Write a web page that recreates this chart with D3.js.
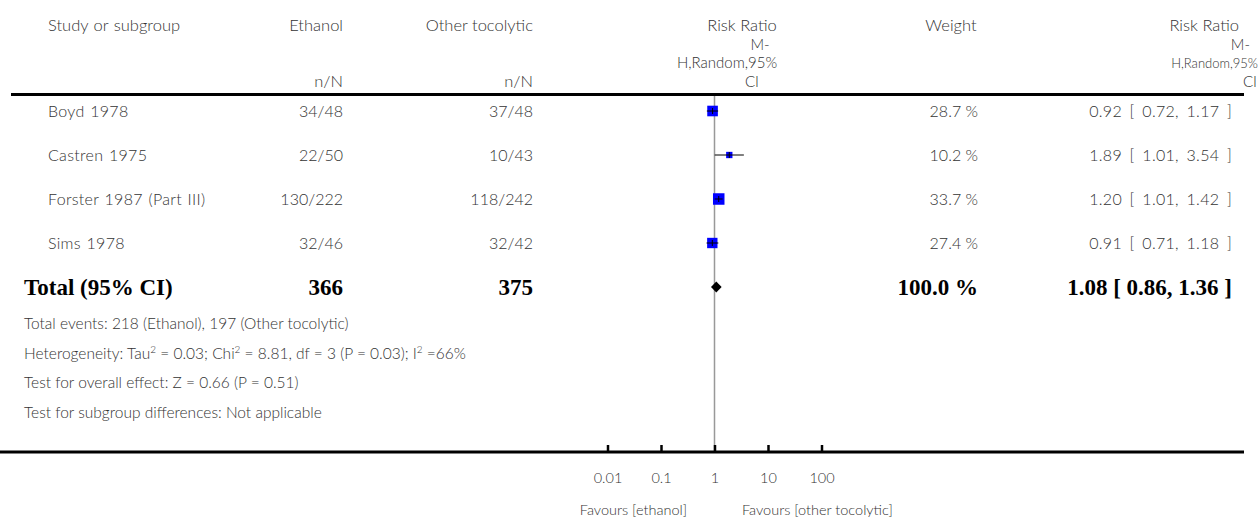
<!DOCTYPE html>
<html>
<head>
<meta charset="utf-8">
<script src="https://cdn.jsdelivr.net/npm/d3@7"></script>
<style>
  body { margin: 0; background: #fff; }
  svg text { font-family: Lato, "Open Sans", sans-serif; font-weight: 300; fill: #333; }
  svg text.bold { font-family: "Liberation Serif", serif; font-weight: bold; fill: #000; }
</style>
</head>
<body>
<svg id="chart"></svg>
<script>
// study rows
var studies = ['Boyd 1978', 'Castren 1975', 'Forster 1987 (Part III)', 'Sims 1978'];
var ethanolEvents = [34, 22, 130, 32];
var ethanolTotals = [48, 50, 222, 46];
var otherEvents = [37, 10, 118, 32];
var otherTotals = [48, 43, 242, 42];
var weights = [28.7, 10.2, 33.7, 27.4];
var ratios = [0.92, 1.89, 1.20, 0.91];
var lowers = [0.72, 1.01, 1.01, 0.71];
var uppers = [1.17, 3.54, 1.42, 1.18];

// pooled
var totalN = [366, 375];
var totalWeight = 100.0;
var totalRatio = [1.08, 0.86, 1.36];

var tickValues = [0.01, 0.1, 1, 10, 100];
var tickLabels = ['0.01', '0.1', '1', '10', '100'];

var footLines = [
  ['Total events: 218 (Ethanol), 197 (Other tocolytic)'],
  ['Heterogeneity: Tau', '2', ' = 0.03; Chi', '2', ' = 8.81, df = 3 (P = 0.03); I', '2', ' =66%'],
  ['Test for overall effect: Z = 0.66 (P = 0.51)'],
  ['Test for subgroup differences: Not applicable']
];

var width = 1259, height = 519;
var svg = d3.select('#chart').attr('width', width).attr('height', height);

var x = d3.scaleLog().domain([0.01, 100]).range([607.5, 821.5]);
var y = d3.scalePoint().domain(studies.concat(['Total'])).range([111, 287]);
var side = d3.scaleSqrt().domain([0, 33.7]).range([0, 11.5]);

function fmt2(v){ return d3.format('.2f')(v); }

// header
var head = svg.append('g').attr('font-size', 16.5);
head.append('text').attr('x', 48).attr('y', 31).attr('word-spacing', 1).text('Study or subgroup');
head.append('text').attr('x', 343).attr('y', 31).attr('text-anchor', 'end').text('Ethanol');
head.append('text').attr('x', 343).attr('y', 87).attr('text-anchor', 'end').text('n/N');
head.append('text').attr('x', 533).attr('y', 31).attr('text-anchor', 'end').text('Other tocolytic');
head.append('text').attr('x', 533).attr('y', 87).attr('text-anchor', 'end').text('n/N');
head.append('text').attr('x', 951).attr('y', 31).attr('text-anchor', 'middle').text('Weight');

var headLines = ['Risk Ratio', 'M-', 'H,Random,95%', 'CI'];
var headYs = [31, 49.5, 68, 87];
headLines.forEach(function(l, i){
  head.append('text').attr('x', [742, 760, 727, 752][i]).attr('y', headYs[i])
    .attr('text-anchor', 'middle').attr('font-size', i ? 15 : null).text(l);
});
headLines.forEach(function(l, i){
  head.append('text').attr('y', headYs[i]).text(l)
    .attr('x', [1239, 1250, 1258, 1257][i]).attr('text-anchor', 'end')
    .attr('font-size', i === 2 ? 13 : (i ? 15 : null));
});

// rules
svg.append('line').attr('x1', 11).attr('x2', 1244).attr('y1', 94.5).attr('y2', 94.5)
  .attr('stroke', '#000').attr('stroke-width', 3);

svg.append('line').attr('x1', x(1)).attr('x2', x(1)).attr('y1', 96).attr('y2', 452)
  .attr('stroke', '#999').attr('stroke-width', 1.5);

// study rows
var rows = svg.selectAll('g.row')
  .data(studies.map(function(s, i){ return i; }))
  .enter()
    .append('g')
    .attr('class', 'row')
    .attr('font-size', 16);

function rowY(i){ return y(studies[i]) + 6; }

rows.append('text').attr('x', 48).attr('y', rowY).attr('word-spacing', 1).attr('letter-spacing', 0.3)
  .text(function(i){ return studies[i]; });
rows.append('text').attr('x', 343).attr('text-anchor', 'end').attr('y', rowY)
  .text(function(i){ return ethanolEvents[i] + '/' + ethanolTotals[i]; });
rows.append('text').attr('x', 533).attr('text-anchor', 'end').attr('y', rowY)
  .text(function(i){ return otherEvents[i] + '/' + otherTotals[i]; });
rows.append('text').attr('x', 978).attr('text-anchor', 'end').attr('y', rowY)
  .text(function(i){ return weights[i].toFixed(1) + ' %'; });
rows.append('text').attr('x', 1232).attr('text-anchor', 'end').attr('y', rowY)
  .attr('word-spacing', 3).attr('letter-spacing', 0.3)
  .text(function(i){ return fmt2(ratios[i]) + ' [ ' + fmt2(lowers[i]) + ', ' + fmt2(uppers[i]) + ' ]'; });

rows.append('rect')
  .attr('x', function(i){ return x(ratios[i]) - side(weights[i]) / 2; })
  .attr('y', function(i){ return y(studies[i]) - side(weights[i]) / 2; })
  .attr('width', function(i){ return side(weights[i]); })
  .attr('height', function(i){ return side(weights[i]); })
  .attr('fill', '#0000ff');
rows.append('line')
  .attr('x1', function(i){ return x(lowers[i]); })
  .attr('x2', function(i){ return x(uppers[i]); })
  .attr('y1', function(i){ return y(studies[i]); })
  .attr('y2', function(i){ return y(studies[i]); })
  .attr('stroke', '#000').attr('stroke-width', 1);
rows.append('line')
  .attr('x1', function(i){ return x(ratios[i]); })
  .attr('x2', function(i){ return x(ratios[i]); })
  .attr('y1', function(i){ return y(studies[i]) - 3; })
  .attr('y2', function(i){ return y(studies[i]) + 3; })
  .attr('stroke', '#000').attr('stroke-width', 1);

// total row
var ty = y('Total');
var tot = svg.append('g').attr('font-size', 23);
tot.append('text').attr('class', 'bold').attr('x', 24).attr('y', ty + 8).text('Total (95% CI)');
tot.append('text').attr('class', 'bold').attr('x', 343).attr('y', ty + 8).attr('text-anchor', 'end').text(totalN[0]);
tot.append('text').attr('class', 'bold').attr('x', 533).attr('y', ty + 8).attr('text-anchor', 'end').text(totalN[1]);
tot.append('text').attr('class', 'bold').attr('x', 978).attr('y', ty + 8).attr('text-anchor', 'end').text(totalWeight.toFixed(1) + ' %');
tot.append('text').attr('class', 'bold').attr('x', 1232).attr('y', ty + 8).attr('text-anchor', 'end')
  .text(fmt2(totalRatio[0]) + ' [ ' + fmt2(totalRatio[1]) + ', ' + fmt2(totalRatio[2]) + ' ]');

tot.append('path')
  .attr('d', 'M' + x(totalRatio[1]) + ',' + ty +
             'L' + x(totalRatio[0]) + ',' + (ty - 5.5) +
             'L' + x(totalRatio[2]) + ',' + ty +
             'L' + x(totalRatio[0]) + ',' + (ty + 5.5) + 'Z')
  .attr('fill', '#000');

// footnotes
var foot = svg.append('g').attr('font-size', 15.5);
footLines.forEach(function(parts, i){
  var t = foot.append('text').attr('x', 24).attr('y', 329 + i * 29.5);
  parts.forEach(function(p, j){
    var span = t.append('tspan').text(p);
    if(j % 2 === 1){
      span.attr('font-size', 10).attr('dy', -6);
    } else if(j > 0){
      span.attr('dy', 6);
    }
  });
});

// axis
var axisG = svg.append('g').attr('transform', 'translate(0,452)');
axisG.append('line').attr('x1', 0).attr('x2', 1244).attr('y1', 0).attr('y2', 0)
  .attr('stroke', '#000').attr('stroke-width', 3);
axisG.call(
  d3.axisBottom(x).tickValues(tickValues)
    .tickFormat(function(d, i){ return tickLabels[i]; })
    .tickSize(-7).tickPadding(21)
);
axisG.select('.domain').remove();
axisG.selectAll('.tick line').attr('stroke', '#000').attr('stroke-width', 2.5);
axisG.selectAll('.tick text')
  .attr('font-family', null).attr('font-size', 14.5).attr('fill', null);

svg.append('text').attr('x', 687).attr('y', 515).attr('text-anchor', 'end').attr('font-size', 14.5)
  .text('Favours [ethanol]');
svg.append('text').attr('x', 742).attr('y', 515).attr('font-size', 14.5)
  .text('Favours [other tocolytic]');
</script>
</body>
</html>
